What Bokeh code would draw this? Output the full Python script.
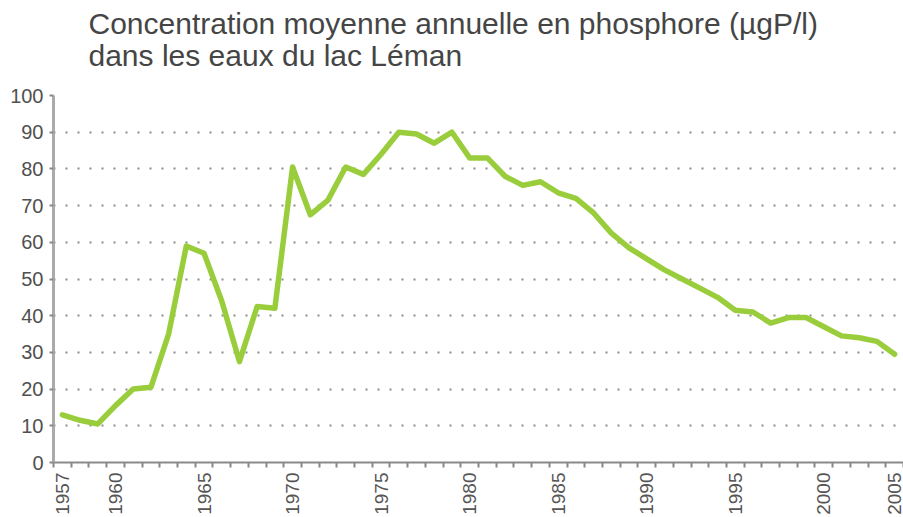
import math
from bokeh.plotting import figure
from bokeh.models import Range1d, FixedTicker, Title
from bokeh.embed import file_html
from bokeh.resources import INLINE

# Data (category axis: one slot per year; 2004 absent in the source series)
years = list(range(1957, 2004)) + [2005]
phosphore = [13, 11.5, 10.5, 15.5, 20, 20.5, 35, 59, 57, 44,
             27.5, 42.5, 42, 80.5, 67.5, 71.5, 80.5, 78.5, 84, 90,
             89.5, 87, 90, 83, 83, 78, 75.5, 76.5, 73.5, 72,
             68, 62.5, 58.5, 55.5, 52.5, 50, 47.5, 45, 41.5, 41,
             38, 39.5, 39.5, 37, 34.5, 34, 33, 29.5]
tick_years = [1957, 1960, 1965, 1970, 1975, 1980, 1985, 1990, 1995, 2000, 2005]
y_ticks = [0, 10, 20, 30, 40, 50, 60, 70, 80, 90, 100]

title_text = "Concentration moyenne annuelle en phosphore (µgP/l)\ndans les eaux du lac Léman"

xs = list(range(len(years)))
n = len(years)

p = figure(width=903, height=517, output_backend="svg", toolbar_location=None,
           x_range=Range1d(-0.5, n - 0.5), y_range=Range1d(0, 100),
           min_border_left=53, min_border_right=0, min_border_bottom=55,
           min_border_top=0)
p.outline_line_color = None
p.background_fill_color = "white"
p.border_fill_color = "white"

font = "Liberation Sans"
tcol = "#454545"

# blank spacer panel between the title and the plot frame
spacer = Title(text=" ", text_font=font, text_font_size="10px", standoff=6,
               text_color="white")
p.add_layout(spacer, "above")
t = Title(text=title_text, text_font=font, text_font_size="30px",
          text_font_style="normal", text_color=tcol, align="left", offset=35,
          standoff=8, text_line_height=0.99)
p.add_layout(t, "above")

# x axis
tick_idx = [years.index(y) for y in tick_years]
p.xaxis.ticker = FixedTicker(ticks=tick_idx, minor_ticks=[i - 0.5 for i in range(n + 1)])
p.xaxis.major_label_overrides = {i: str(y) for i, y in zip(tick_idx, tick_years)}
p.xaxis.major_label_orientation = math.pi / 2
p.xaxis.major_tick_line_color = None
p.xaxis.major_tick_out = 5
p.xaxis.minor_tick_out = 5
p.xaxis.minor_tick_in = 0
p.xaxis.minor_tick_line_color = "#888888"
p.xaxis.minor_tick_line_width = 2
p.xaxis.axis_line_color = "#8a8a8a"
p.xaxis.axis_line_width = 2
p.xaxis.major_label_text_font = font
p.xaxis.major_label_text_font_size = "19px"
p.xaxis.major_label_text_color = "#555555"
p.xaxis.major_label_standoff = 5

# y axis
p.yaxis.ticker = FixedTicker(ticks=y_ticks)
p.yaxis.minor_tick_line_color = None
p.yaxis.major_tick_out = 4
p.yaxis.major_tick_in = 0
p.yaxis.major_tick_line_color = "#888888"
p.yaxis.major_tick_line_width = 2
p.yaxis.axis_line_color = "#aaaaaa"
p.yaxis.axis_line_width = 3
p.yaxis.major_label_text_font = font
p.yaxis.major_label_text_font_size = "20px"
p.yaxis.major_label_text_color = "#505050"
p.yaxis.major_label_standoff = 6

p.xgrid.visible = False
p.ygrid.ticker = FixedTicker(ticks=y_ticks[1:])
p.ygrid.grid_line_color = "#8c8c8c"
p.ygrid.grid_line_width = 2
p.ygrid.grid_line_dash = "2 10"

p.line(xs, phosphore, line_color="#9acd3c", line_width=5.5, line_join="round",
       line_cap="round")

open("out.html", "w").write(file_html(p, INLINE))
